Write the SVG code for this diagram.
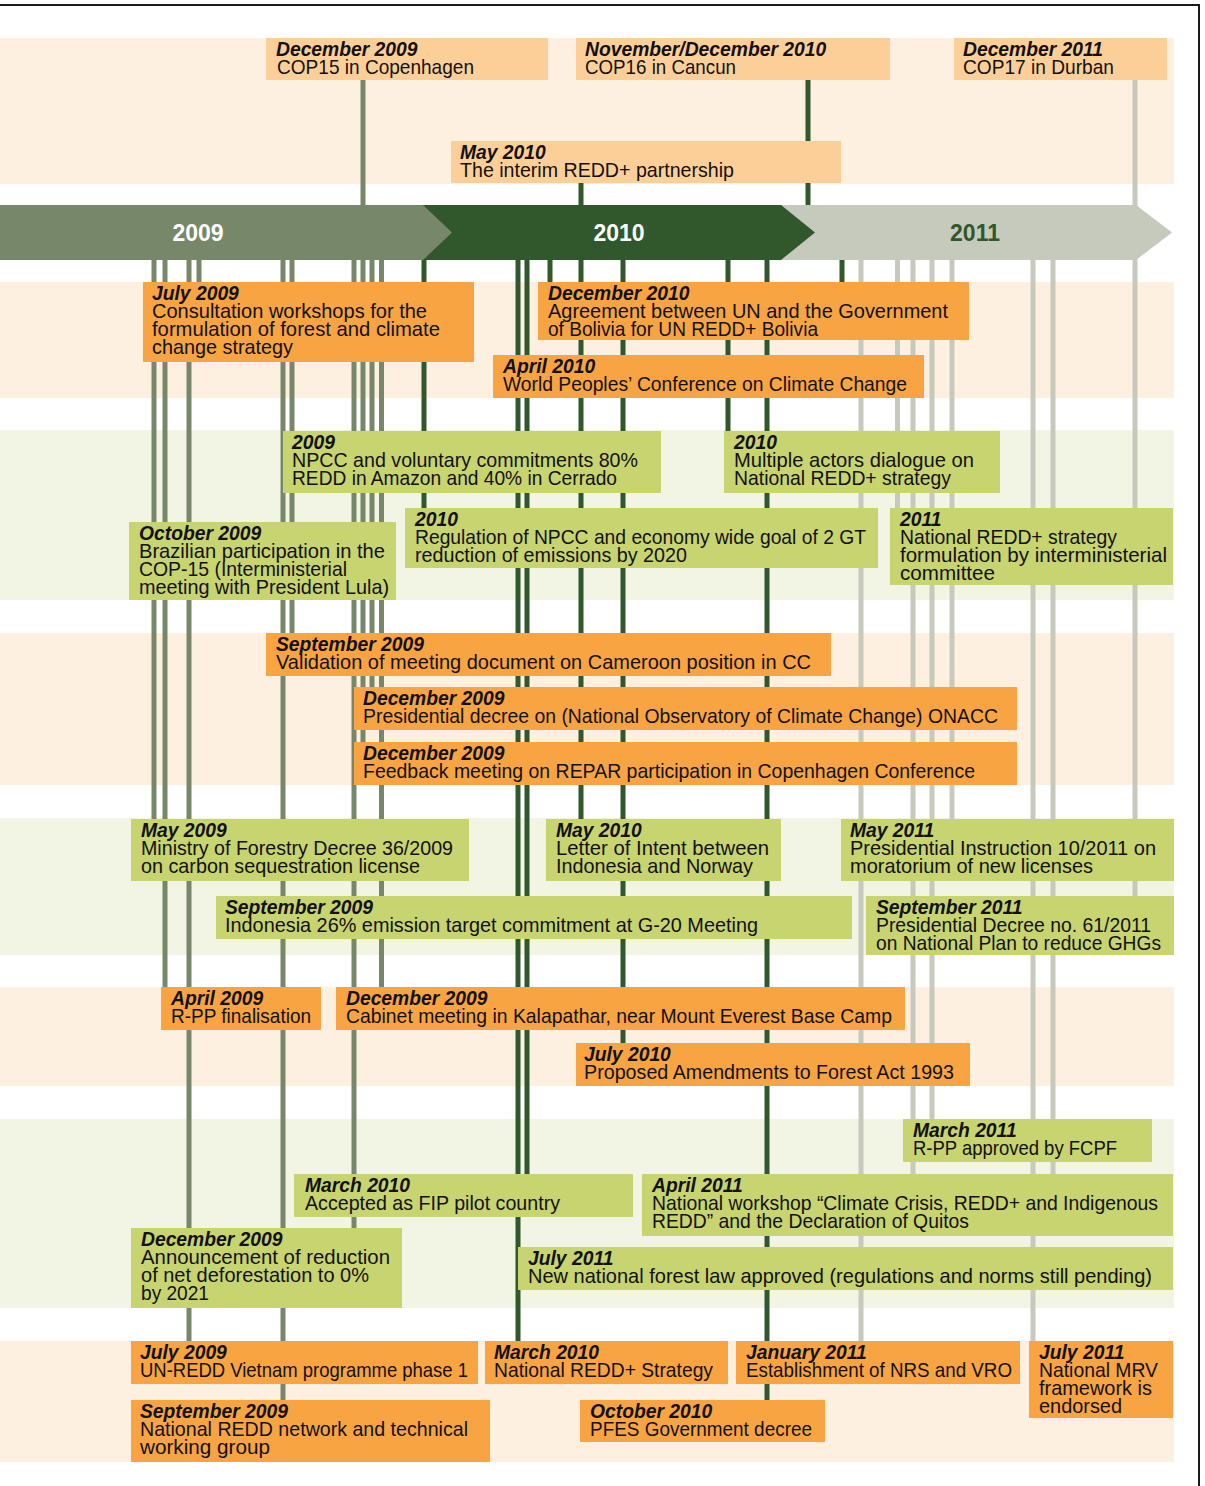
<svg xmlns="http://www.w3.org/2000/svg" width="1205" height="1486" viewBox="0 0 1205 1486">
<style>
.bp{fill:#FEF0E1}
.bg{fill:#F2F5E4}
.t{fill:#FDCF98}
.o{fill:#F8A442}
.g{fill:#C8D46F}
text{font-family:"Liberation Sans",Arial,sans-serif;fill:#111}
.h{font-size:19.3px;font-weight:bold;font-style:italic}
.b{font-size:19.8px}
.yr{font-size:23px;font-weight:bold;text-anchor:middle}
.l9{stroke:#77876A;stroke-width:5}
.l0{stroke:#31572C;stroke-width:5}
.l1{stroke:#C6CABD;stroke-width:5}
</style>
<rect x="0" y="0" width="1205" height="1486" fill="#ffffff"/>
<g id="bands">
<rect class="bp" x="0" y="38" width="1174" height="146"/>
<rect class="bp" x="0" y="282" width="1174" height="116"/>
<rect class="bg" x="0" y="430" width="1174" height="170"/>
<rect class="bp" x="0" y="633" width="1174" height="152"/>
<rect class="bg" x="0" y="818" width="1174" height="137"/>
<rect class="bp" x="0" y="987" width="1174" height="99"/>
<rect class="bg" x="0" y="1119" width="1174" height="189"/>
<rect class="bp" x="0" y="1341" width="1174" height="121"/>
</g>
<g id="connectors">
<line class="l9" x1="154" y1="260" x2="154" y2="819"/>
<line class="l9" x1="165" y1="260" x2="165" y2="987"/>
<line class="l9" x1="189" y1="260" x2="189" y2="1341"/>
<line class="l9" x1="199" y1="260" x2="199" y2="282"/>
<line class="l9" x1="283" y1="260" x2="283" y2="1400"/>
<line class="l9" x1="292" y1="260" x2="292" y2="633"/>
<line class="l9" x1="354" y1="260" x2="354" y2="1228"/>
<line class="l9" x1="363" y1="80" x2="363" y2="742"/>
<line class="l9" x1="372" y1="260" x2="372" y2="687"/>
<line class="l9" x1="381.5" y1="260" x2="381.5" y2="987"/>
<line class="l0" x1="424" y1="260" x2="424" y2="508"/>
<line class="l0" x1="518" y1="260" x2="518" y2="1341"/>
<line class="l0" x1="527" y1="260" x2="527" y2="1174"/>
<line class="l0" x1="550" y1="260" x2="550" y2="282"/>
<line class="l0" x1="581" y1="183" x2="581" y2="819"/>
<line class="l0" x1="623" y1="260" x2="623" y2="1043"/>
<line class="l0" x1="728" y1="260" x2="728" y2="431"/>
<line class="l0" x1="767" y1="260" x2="767" y2="1400"/>
<line class="l0" x1="808" y1="80" x2="808" y2="205"/>
<line class="l0" x1="842" y1="260" x2="842" y2="282"/>
<line class="l1" x1="861" y1="260" x2="861" y2="1341"/>
<line class="l1" x1="897.5" y1="260" x2="897.5" y2="508"/>
<line class="l1" x1="913" y1="260" x2="913" y2="1174"/>
<line class="l1" x1="932" y1="260" x2="932" y2="1119"/>
<line class="l1" x1="952" y1="260" x2="952" y2="819"/>
<line class="l1" x1="1033" y1="260" x2="1033" y2="1341"/>
<line class="l1" x1="1053" y1="260" x2="1053" y2="1174"/>
<line class="l1" x1="1135" y1="80" x2="1135" y2="896"/>
</g>
<g id="timeline">
<polygon points="780,205 1136,205 1172,232.5 1136,260 780,260" fill="#C6CABD"/>
<polygon points="423,205 781,205 815,232.5 781,260 423,260" fill="#31572C"/>
<polygon points="0,205 423,205 452,232.5 423,260 0,260" fill="#77876A"/>
<text class="yr" x="198" y="241" style="fill:#ffffff">2009</text>
<text class="yr" x="619" y="241" style="fill:#ffffff">2010</text>
<text class="yr" x="975" y="241" style="fill:#31572C">2011</text>
</g>
<g id="n01"><rect class="t" x="266" y="38" width="282" height="42"/><text class="h" x="276" y="56">December 2009</text><text class="b" x="277" y="74" textLength="197" lengthAdjust="spacingAndGlyphs">COP15 in Copenhagen</text></g>
<g id="n02"><rect class="t" x="576" y="38" width="314" height="42"/><text class="h" x="585" y="56">November/December 2010</text><text class="b" x="585" y="74" textLength="151" lengthAdjust="spacingAndGlyphs">COP16 in Cancun</text></g>
<g id="n03"><rect class="t" x="954" y="38" width="213" height="42"/><text class="h" x="963" y="56">December 2011</text><text class="b" x="963" y="74" textLength="151" lengthAdjust="spacingAndGlyphs">COP17 in Durban</text></g>
<g id="n04"><rect class="t" x="451" y="141" width="390" height="42"/><text class="h" x="460" y="159">May 2010</text><text class="b" x="460" y="177" textLength="274" lengthAdjust="spacingAndGlyphs">The interim REDD+ partnership</text></g>
<g id="n05"><rect class="o" x="143" y="282" width="331" height="80"/><text class="h" x="152" y="300">July 2009</text><text class="b" x="152" y="318" textLength="275" lengthAdjust="spacingAndGlyphs">Consultation workshops for the</text><text class="b" x="152" y="336" textLength="288" lengthAdjust="spacingAndGlyphs">formulation of forest and climate</text><text class="b" x="152" y="354" textLength="141" lengthAdjust="spacingAndGlyphs">change strategy</text></g>
<g id="n06"><rect class="o" x="538" y="282" width="431" height="58"/><text class="h" x="548" y="300">December 2010</text><text class="b" x="548" y="318" textLength="400" lengthAdjust="spacingAndGlyphs">Agreement between UN and the Government</text><text class="b" x="548" y="336" textLength="270" lengthAdjust="spacingAndGlyphs">of Bolivia for UN REDD+ Bolivia</text></g>
<g id="n07"><rect class="o" x="493" y="355" width="431" height="43"/><text class="h" x="503" y="373">April 2010</text><text class="b" x="503" y="391" textLength="404" lengthAdjust="spacingAndGlyphs">World Peoples’ Conference on Climate Change</text></g>
<g id="n08"><rect class="g" x="283" y="431" width="378" height="62"/><text class="h" x="292" y="449">2009</text><text class="b" x="292" y="467" textLength="346" lengthAdjust="spacingAndGlyphs">NPCC and voluntary commitments 80%</text><text class="b" x="292" y="485" textLength="325" lengthAdjust="spacingAndGlyphs">REDD in Amazon and 40% in Cerrado</text></g>
<g id="n09"><rect class="g" x="724" y="431" width="276" height="62"/><text class="h" x="734" y="449">2010</text><text class="b" x="734" y="467" textLength="240" lengthAdjust="spacingAndGlyphs">Multiple actors dialogue on</text><text class="b" x="734" y="485" textLength="217" lengthAdjust="spacingAndGlyphs">National REDD+ strategy</text></g>
<g id="n10"><rect class="g" x="129" y="522" width="267" height="78"/><text class="h" x="139" y="540">October 2009</text><text class="b" x="139" y="558" textLength="246" lengthAdjust="spacingAndGlyphs">Brazilian participation in the</text><text class="b" x="139" y="576" textLength="208" lengthAdjust="spacingAndGlyphs">COP-15 (Interministerial</text><text class="b" x="139" y="594" textLength="250" lengthAdjust="spacingAndGlyphs">meeting with President Lula)</text></g>
<g id="n11"><rect class="g" x="405" y="508" width="473" height="60"/><text class="h" x="415" y="526">2010</text><text class="b" x="415" y="544" textLength="451" lengthAdjust="spacingAndGlyphs">Regulation of NPCC and economy wide goal of 2 GT</text><text class="b" x="415" y="562" textLength="272" lengthAdjust="spacingAndGlyphs">reduction of emissions by 2020</text></g>
<g id="n12"><rect class="g" x="890" y="508" width="283" height="77"/><text class="h" x="900" y="526">2011</text><text class="b" x="900" y="544" textLength="217" lengthAdjust="spacingAndGlyphs">National REDD+ strategy</text><text class="b" x="900" y="562" textLength="267" lengthAdjust="spacingAndGlyphs">formulation by interministerial</text><text class="b" x="900" y="580" textLength="95" lengthAdjust="spacingAndGlyphs">committee</text></g>
<g id="n13"><rect class="o" x="266" y="633" width="565" height="43"/><text class="h" x="276" y="651">September 2009</text><text class="b" x="276" y="669" textLength="535" lengthAdjust="spacingAndGlyphs">Validation of meeting document on Cameroon position in CC</text></g>
<g id="n14"><rect class="o" x="354" y="687" width="663" height="43"/><text class="h" x="363" y="705">December 2009</text><text class="b" x="363" y="723" textLength="635" lengthAdjust="spacingAndGlyphs">Presidential decree on (National Observatory of Climate Change) ONACC</text></g>
<g id="n15"><rect class="o" x="354" y="742" width="663" height="43"/><text class="h" x="363" y="760">December 2009</text><text class="b" x="363" y="778" textLength="612" lengthAdjust="spacingAndGlyphs">Feedback meeting on REPAR participation in Copenhagen Conference</text></g>
<g id="n16"><rect class="g" x="131" y="819" width="338" height="62"/><text class="h" x="141" y="837">May 2009</text><text class="b" x="141" y="855" textLength="312" lengthAdjust="spacingAndGlyphs">Ministry of Forestry Decree 36/2009</text><text class="b" x="141" y="873" textLength="279" lengthAdjust="spacingAndGlyphs">on carbon sequestration license</text></g>
<g id="n17"><rect class="g" x="546" y="819" width="235" height="62"/><text class="h" x="556" y="837">May 2010</text><text class="b" x="556" y="855" textLength="213" lengthAdjust="spacingAndGlyphs">Letter of Intent between</text><text class="b" x="556" y="873" textLength="197" lengthAdjust="spacingAndGlyphs">Indonesia and Norway</text></g>
<g id="n18"><rect class="g" x="841" y="819" width="333" height="62"/><text class="h" x="850" y="837">May 2011</text><text class="b" x="850" y="855" textLength="306" lengthAdjust="spacingAndGlyphs">Presidential Instruction 10/2011 on</text><text class="b" x="850" y="873" textLength="243" lengthAdjust="spacingAndGlyphs">moratorium of new licenses</text></g>
<g id="n19"><rect class="g" x="216" y="896" width="636" height="43"/><text class="h" x="225" y="914">September 2009</text><text class="b" x="225" y="932" textLength="533" lengthAdjust="spacingAndGlyphs">Indonesia 26% emission target commitment at G-20 Meeting</text></g>
<g id="n20"><rect class="g" x="866" y="896" width="308" height="59"/><text class="h" x="876" y="914">September 2011</text><text class="b" x="876" y="932" textLength="275" lengthAdjust="spacingAndGlyphs">Presidential Decree no. 61/2011</text><text class="b" x="876" y="950" textLength="285" lengthAdjust="spacingAndGlyphs">on National Plan to reduce GHGs</text></g>
<g id="n21"><rect class="o" x="161" y="987" width="160" height="43"/><text class="h" x="171" y="1005">April 2009</text><text class="b" x="171" y="1023" textLength="140" lengthAdjust="spacingAndGlyphs">R-PP finalisation</text></g>
<g id="n22"><rect class="o" x="336" y="987" width="569" height="43"/><text class="h" x="346" y="1005">December 2009</text><text class="b" x="346" y="1023" textLength="546" lengthAdjust="spacingAndGlyphs">Cabinet meeting in Kalapathar, near Mount Everest Base Camp</text></g>
<g id="n23"><rect class="o" x="576" y="1043" width="394" height="43"/><text class="h" x="584" y="1061">July 2010</text><text class="b" x="584" y="1079" textLength="370" lengthAdjust="spacingAndGlyphs">Proposed Amendments to Forest Act 1993</text></g>
<g id="n24"><rect class="g" x="903" y="1119" width="249" height="43"/><text class="h" x="913" y="1137">March 2011</text><text class="b" x="913" y="1155" textLength="204" lengthAdjust="spacingAndGlyphs">R-PP approved by FCPF</text></g>
<g id="n25"><rect class="g" x="294" y="1174" width="339" height="43"/><text class="h" x="305" y="1192">March 2010</text><text class="b" x="305" y="1210" textLength="255" lengthAdjust="spacingAndGlyphs">Accepted as FIP pilot country</text></g>
<g id="n26"><rect class="g" x="642" y="1174" width="531" height="62"/><text class="h" x="652" y="1192">April 2011</text><text class="b" x="652" y="1210" textLength="506" lengthAdjust="spacingAndGlyphs">National workshop “Climate Crisis, REDD+ and Indigenous</text><text class="b" x="652" y="1228" textLength="317" lengthAdjust="spacingAndGlyphs">REDD” and the Declaration of Quitos</text></g>
<g id="n27"><rect class="g" x="131" y="1228" width="271" height="80"/><text class="h" x="141" y="1246">December 2009</text><text class="b" x="141" y="1264" textLength="249" lengthAdjust="spacingAndGlyphs">Announcement of reduction</text><text class="b" x="141" y="1282" textLength="228" lengthAdjust="spacingAndGlyphs">of net deforestation to 0%</text><text class="b" x="141" y="1300" textLength="68" lengthAdjust="spacingAndGlyphs">by 2021</text></g>
<g id="n28"><rect class="g" x="518" y="1247" width="655" height="43"/><text class="h" x="528" y="1265">July 2011</text><text class="b" x="528" y="1283" textLength="624" lengthAdjust="spacingAndGlyphs">New national forest law approved (regulations and norms still pending)</text></g>
<g id="n29"><rect class="o" x="131" y="1341" width="347" height="43"/><text class="h" x="140" y="1359">July 2009</text><text class="b" x="140" y="1377" textLength="328" lengthAdjust="spacingAndGlyphs">UN-REDD Vietnam programme phase 1</text></g>
<g id="n30"><rect class="o" x="485" y="1341" width="243" height="43"/><text class="h" x="494" y="1359">March 2010</text><text class="b" x="494" y="1377" textLength="219" lengthAdjust="spacingAndGlyphs">National REDD+ Strategy</text></g>
<g id="n31"><rect class="o" x="736" y="1341" width="284" height="43"/><text class="h" x="746" y="1359">January 2011</text><text class="b" x="746" y="1377" textLength="266" lengthAdjust="spacingAndGlyphs">Establishment of NRS and VRO</text></g>
<g id="n32"><rect class="o" x="1029" y="1341" width="144" height="77"/><text class="h" x="1039" y="1359">July 2011</text><text class="b" x="1039" y="1377" textLength="119" lengthAdjust="spacingAndGlyphs">National MRV</text><text class="b" x="1039" y="1395" textLength="113" lengthAdjust="spacingAndGlyphs">framework is</text><text class="b" x="1039" y="1413" textLength="83" lengthAdjust="spacingAndGlyphs">endorsed</text></g>
<g id="n33"><rect class="o" x="131" y="1400" width="359" height="62"/><text class="h" x="140" y="1418">September 2009</text><text class="b" x="140" y="1436" textLength="328" lengthAdjust="spacingAndGlyphs">National REDD network and technical</text><text class="b" x="140" y="1454" textLength="130" lengthAdjust="spacingAndGlyphs">working group</text></g>
<g id="n34"><rect class="o" x="580" y="1400" width="245" height="42"/><text class="h" x="590" y="1418">October 2010</text><text class="b" x="590" y="1436" textLength="222" lengthAdjust="spacingAndGlyphs">PFES Government decree</text></g>
<path d="M0,5 H1199 V1486" fill="none" stroke="#1a1a1a" stroke-width="2"/>
</svg>
